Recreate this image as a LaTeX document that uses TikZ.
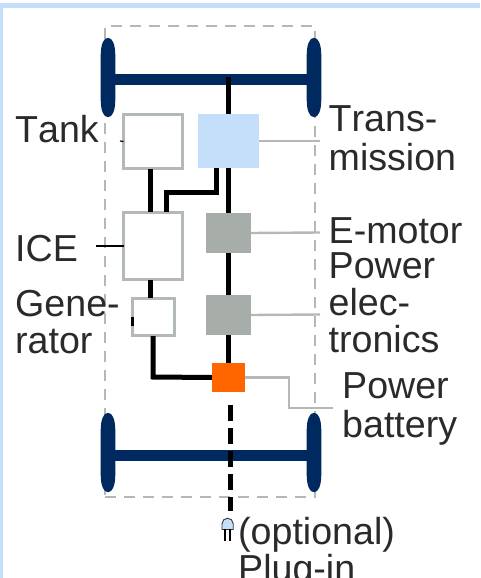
\documentclass[tikz,border=0pt]{standalone}
\usepackage{fontspec}
\setmainfont[Kerning=Off]{Liberation Sans}
\definecolor{navy}{HTML}{002A5F}
\definecolor{lblue}{HTML}{C5DFFB}
\definecolor{gbox}{HTML}{A7AEA9}
\definecolor{gline}{HTML}{B3B9B5}
\definecolor{txt}{HTML}{2B2A2B}
\definecolor{orng}{HTML}{FF6600}
\tikzset{
  wheelfill/.style={fill=navy,draw=none},
  axle/.style={draw=navy,line width=11pt},
  openbox/.style={rectangle,draw=gline,line width=2.6pt,fill=white,inner sep=0pt,outer sep=0pt},
  greybox/.style={rectangle,fill=gbox,inner sep=0pt,outer sep=0pt,minimum width=45pt,minimum height=40pt},
  link/.style={draw=black,line width=5pt},
  leader/.style={draw=gline,line width=2.4pt},
  thinl/.style={draw=black,line width=1.2pt},
  lab/.style={anchor=base west,inner sep=0pt,text=txt,font=\fontsize{37.6}{37.6}\selectfont},
}
\newcommand{\tyre}[2]{\fill[wheelfill] (#1-7.3,#2-22) .. controls (#1-7.3,#2-33) and (#1-4.5,#2-39.7) .. (#1,#2-39.7) .. controls (#1+4.5,#2-39.7) and (#1+7.3,#2-33) .. (#1+7.3,#2-22) -- (#1+7.3,#2+22) .. controls (#1+7.3,#2+33) and (#1+4.5,#2+39.7) .. (#1,#2+39.7) .. controls (#1-4.5,#2+39.7) and (#1-7.3,#2+33) .. (#1-7.3,#2+22) -- cycle;}
\begin{document}
\begin{tikzpicture}[x=1pt,y=-1pt]
\useasboundingbox (0,0) rectangle (480,578);
\clip (0,0) rectangle (480,578);
% outer frame
\fill[lblue] (0,3) rectangle (480,8);
\fill[lblue] (0,3) rectangle (3,578);
% dashed vehicle outline
\node[rectangle,draw=gline,line width=2pt,dash pattern=on 11pt off 8pt,minimum width=210pt,minimum height=471pt,inner sep=0pt] (frame) at (210,261.5) {};
% wheels and axles
\tyre{108}{77.5}
\tyre{314}{77.5}
\tyre{108}{452.5}
\tyre{314}{452.5}
\coordinate (aTL) at (108,79.5);
\coordinate (aTR) at (314,79.5);
\coordinate (aBL) at (108,455);
\coordinate (aBR) at (314,455);
\draw[axle] (aTL) -- (aTR);
\draw[axle] (aBL) -- (aBR);
% components
\node[openbox,minimum width=59pt,minimum height=54pt] (tank) at (153,141.5) {};
\node[rectangle,fill=lblue,inner sep=0pt,minimum width=61pt,minimum height=54pt] (trans) at (228.5,141) {};
\node[openbox,minimum width=59pt,minimum height=67pt] (ice) at (153,246) {};
\node[greybox] (emotor) at (228.5,233) {};
\node[openbox,minimum width=42pt,minimum height=37pt] (gen) at (153.5,317) {};
\node[greybox] (pe) at (228.5,315) {};
\node[rectangle,fill=orng,inner sep=0pt,minimum width=33pt,minimum height=29pt] (batt) at (228.5,377.5) {};
% black links
\coordinate (axTop) at (228.5,77);
\coordinate (tankB) at (150,169);
\coordinate (iceT1) at (150,212);
\coordinate (transB) at (216.5,168);
\coordinate (bendA) at (216.5,192);
\coordinate (bendB) at (166,192);
\coordinate (iceT2) at (166,212);
\coordinate (iceB) at (150,280);
\coordinate (genT) at (150,298);
\coordinate (genB) at (153,336);
\coordinate (genC) at (153,377);
\draw[link] (axTop) -- (trans.north);
\draw[link] (trans.south) -- (emotor.north);
\draw[link] (emotor.south) -- (pe.north);
\draw[link] (pe.south) -- (batt.north);
\draw[link] (tankB) -- (iceT1);
\draw[link,miter limit=10] (transB) -- (bendA) -- (bendB) -- (iceT2);
\draw[link] (iceB) -- (genT);
\draw[link] (genB) -- (genC) -- (batt.west);
% charging line
\coordinate (chgA) at (230.5,405);
\coordinate (chgB) at (230.5,511);
\draw[link,dash pattern=on 16pt off 7pt] (chgA) -- (chgB);
% plug
\fill[lblue,draw=black!80,line width=.9pt] (222,529.5) -- (222,523.8) arc[start angle=180,end angle=360,radius=5.6] -- (233.2,529.5) -- cycle;
\draw[black,line width=1.4pt] (225,529) -- (225,541);
\draw[black,line width=1.4pt] (230,529) -- (230,541);
% labels
\node[lab] (lTank) at (15,142) {Tank};
\node[lab] (lICE) at (15,261) {ICE};
\node[lab] (lGen1) at (15,316) {Gene-};
\node[lab] (lGen2) at (15,353) {rator};
\node[lab] (lTr1) at (328.5,131) {Trans-};
\node[lab] (lTr2) at (328.5,170) {mission};
\node[lab] (lEm) at (328.5,243) {E-motor};
\node[lab] (lPe1) at (328.5,278) {Power};
\node[lab] (lPe2) at (328.5,315) {elec-};
\node[lab] (lPe3) at (328.5,352) {tronics};
\node[lab] (lBa1) at (342,398) {Power};
\node[lab] (lBa2) at (342,437) {battery};
\node[lab] (lOpt) at (238,544) {(optional)};
\node[lab] (lPlug) at (238,581) {Plug-in};
% leaders
\coordinate (eTr) at (320,141);
\coordinate (eEm) at (320,232.5);
\coordinate (ePe) at (320,314.5);
\coordinate (eBa) at (333,408);
\coordinate (kBa1) at (289,377.5);
\coordinate (kBa2) at (289,408);
\coordinate (tIce) at (96,246);
\coordinate (tTank) at (120,141);
\coordinate (tGenA) at (132.5,317);
\coordinate (tGenB) at (132.5,326);
\draw[leader] (trans.east) -- (eTr);
\draw[leader] (emotor.east) -- (eEm);
\draw[leader] (pe.east) -- (ePe);
\draw[leader] (batt.east) -- (kBa1) -- (kBa2) -- (eBa);
\draw[thinl] (tIce) -- (ice.west);
\draw[thinl] (tTank) -- (tank.west);
\draw[black,line width=3pt] (tGenA) -- (tGenB);
\end{tikzpicture}
\end{document}
